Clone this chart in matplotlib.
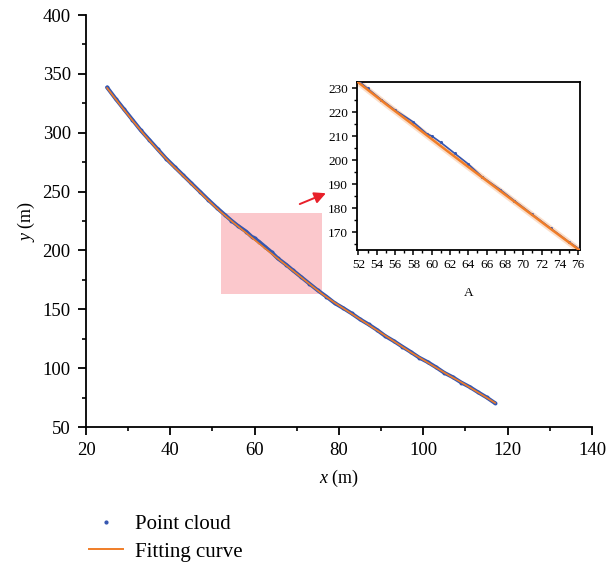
import matplotlib
matplotlib.use("Agg")
import matplotlib.pyplot as plt
from matplotlib.patches import Rectangle
from matplotlib.lines import Line2D
from matplotlib.ticker import MultipleLocator, AutoMinorLocator

plt.rcParams['font.family'] = ['Liberation Serif', 'DejaVu Serif']
plt.rcParams['mathtext.fontset'] = 'custom'
plt.rcParams['mathtext.it'] = 'Liberation Serif:italic'
plt.rcParams['mathtext.rm'] = 'Liberation Serif'

# ---- data ----
cloud_x = [25, 27, 29, 31, 33, 35, 37, 39, 41, 43, 45, 47, 49, 51, 53, 54.5, 56, 58,
           59.5, 60, 61, 62.5, 64, 65.5, 67.5, 69, 71, 73, 75, 77, 79, 81, 83, 85, 87,
           89, 91, 93, 95, 97, 99, 101, 103, 105, 107, 109, 111, 113, 115, 117]
cloud_y = [338.5, 329.0, 320.0, 311.0, 302.0, 294.0, 286.0, 278.0, 271.0, 264.0,
           257.0, 250.0, 243.0, 236.3, 230.0, 225.3, 221.0, 216.0, 211.0, 210.2,
           207.5, 203.0, 198.5, 193.2, 187.8, 183.3, 177.5, 171.7, 166.0, 160.8,
           155.2, 151.0, 146.5, 141.5, 137.2, 132.5, 127.2, 123.0, 118.3, 113.8,
           109.0, 105.2, 100.8, 96.0, 92.3, 87.8, 84.0, 79.5, 75.2, 70.3]

curve_x = [25, 28, 31, 34, 37, 40, 43, 46, 49, 52, 55, 58, 61, 64, 67, 70, 73, 76,
           79, 82, 85, 88, 91, 94, 97, 100, 103, 106, 109, 112, 115, 117]
curve_y = [338, 324, 310.5, 297.5, 285.5, 274, 263.5, 253, 242.5, 232.5, 223.5,
           214.8, 206.0, 197.3, 188.7, 180.1, 171.5, 163, 155.5, 148.5, 141.5,
           134.5, 127.5, 120.5, 113.5, 107, 100.5, 94, 88, 81.5, 75, 70.5]

zoom_x = [52, 76]
zoom_y = [163, 232]

main_xticks = [20, 40, 60, 80, 100, 120, 140]
main_yticks = [50, 100, 150, 200, 250, 300, 350, 400]
inset_xticks = [52, 54, 56, 58, 60, 62, 64, 66, 68, 70, 72, 74, 76]
inset_yticks = [170, 180, 190, 200, 210, 220, 230]

blue = '#3556b0'
orange = '#f07d28'

fig = plt.figure(figsize=(6.13, 5.64), dpi=100)
ax = fig.add_axes([0.1403, 0.2429, 0.8254, 0.7305])

ax.add_patch(Rectangle((zoom_x[0], zoom_y[0]), zoom_x[1] - zoom_x[0], zoom_y[1] - zoom_y[0],
                       facecolor='#fbc8cc', edgecolor='none', zorder=1))
ax.plot(cloud_x, cloud_y, color=blue, lw=2.8, solid_capstyle='round', zorder=2)
ax.scatter(cloud_x, cloud_y, s=8, color=blue, zorder=3, linewidths=0)
ax.plot(curve_x, curve_y, color=orange, lw=1.2, zorder=4)

ax.set_xlim(20, 140)
ax.set_ylim(50, 400)
ax.set_xticks(main_xticks)
ax.set_yticks(main_yticks)
ax.xaxis.set_minor_locator(MultipleLocator(10))
ax.yaxis.set_minor_locator(MultipleLocator(25))
for s in ['top', 'right']:
    ax.spines[s].set_visible(False)
for s in ['left', 'bottom']:
    ax.spines[s].set_linewidth(1.3)
ax.tick_params(which='major', direction='out', length=6, width=1.3, labelsize=13.5, pad=5)
ax.tick_params(which='minor', direction='out', length=3, width=1.2)
ax.set_xlabel('$x$ (m)', fontsize=13, labelpad=6)
ax.set_ylabel('$y$ (m)', fontsize=13, labelpad=4)

ax.annotate('', xy=(76.9, 248.6), xytext=(70.7, 239.4),
            arrowprops=dict(arrowstyle='-|>', color='#e8202a', lw=1.4, mutation_scale=17,
                            shrinkA=0, shrinkB=0))

# ---- inset ----
ins = fig.add_axes([0.5824, 0.5576, 0.3638, 0.2975])
ins.plot(curve_x, curve_y, color=orange, lw=4.5, alpha=0.25, zorder=2)
ins.scatter(cloud_x, cloud_y, s=5, color=blue, zorder=3, linewidths=0)
ins.plot(cloud_x, cloud_y, color=blue, lw=1.2, zorder=3)
ins.plot(curve_x, curve_y, color=orange, lw=1.8, zorder=4)
ins.set_xlim(51.85, 76.2)
ins.set_ylim(162.9, 232.8)
ins.set_xticks(inset_xticks)
ins.set_yticks(inset_yticks)
ins.xaxis.set_minor_locator(AutoMinorLocator(2))
ins.yaxis.set_minor_locator(AutoMinorLocator(2))
for s in ins.spines.values():
    s.set_linewidth(1.3)
ins.tick_params(which='major', direction='out', length=3.5, width=1.1, labelsize=9.5, pad=3)
ins.tick_params(which='minor', direction='out', length=2, width=1.0)
ins.set_xlabel('A', fontsize=9.5, labelpad=12)

# ---- legend ----
handles = [Line2D([], [], marker='.', linestyle='none', color=blue, markersize=4),
           Line2D([], [], color=orange, lw=1.4)]
fig.legend(handles, ['Point cloud', 'Fitting curve'], loc='upper left',
           bbox_to_anchor=(0.131, 0.103), frameon=False, fontsize=15,
           handlelength=1.63, handletextpad=0.58, labelspacing=0.4,
           borderpad=0.4, borderaxespad=0)

fig.savefig('out.png', dpi=100)
